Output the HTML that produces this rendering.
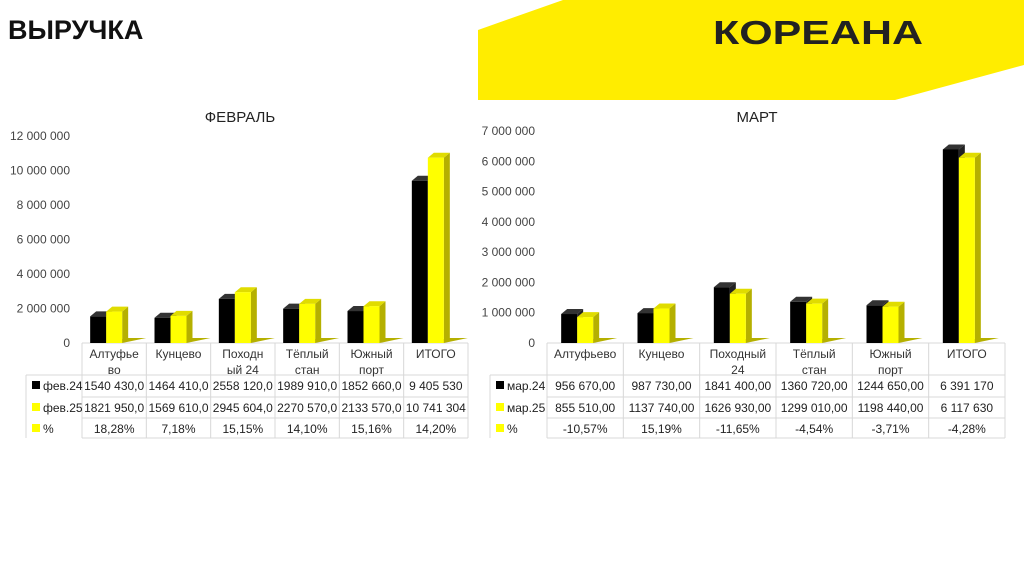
<!DOCTYPE html>
<html><head><meta charset="utf-8"><style>
body{margin:0;width:1024px;height:574px;overflow:hidden;background:#fff;font-family:"Liberation Sans",sans-serif}
svg{position:absolute;left:0;top:0}
</style></head><body>
<svg id="s" width="1024" height="574">
<polygon points="478,30 563,0 1024,0 1024,65 895,100 478,100" fill="#ffed00"/>
<text x="8" y="39" font-size="27" font-weight="bold" fill="#111">ВЫРУЧКА</text>
<text x="713" y="44" font-size="33" font-weight="bold" fill="#222" textLength="210" lengthAdjust="spacingAndGlyphs">КОРЕАНА</text>
<g id="c1"></g><g id="c2"></g>
</svg>
<script>
const cats1=["Алтуфье|во","Кунцево","Походн|ый 24","Тёплый|стан","Южный|порт","ИТОГО"];
const feb24=[1540430,1464410,2558120,1989910,1852660,9405530];
const feb25=[1821950,1569610,2945604,2270570,2133570,10741304];
const feb24Txt=["1540 430,0","1464 410,0","2558 120,0","1989 910,0","1852 660,0","9 405 530"];
const feb25Txt=["1821 950,0","1569 610,0","2945 604,0","2270 570,0","2133 570,0","10 741 304"];
const febPct=["18,28%","7,18%","15,15%","14,10%","15,16%","14,20%"];
const febTicks=[0,2000000,4000000,6000000,8000000,10000000,12000000];
const cats2=["Алтуфьево","Кунцево","Походный|24","Тёплый|стан","Южный|порт","ИТОГО"];
const mar24=[956670,987730,1841400,1360720,1244650,6391170];
const mar25=[855510,1137740,1626930,1299010,1198440,6117630];
const mar24Txt=["956 670,00","987 730,00","1841 400,00","1360 720,00","1244 650,00","6 391 170"];
const mar25Txt=["855 510,00","1137 740,00","1626 930,00","1299 010,00","1198 440,00","6 117 630"];
const marPct=["-10,57%","15,19%","-11,65%","-4,54%","-3,71%","-4,28%"];
const marTicks=[0,1000000,2000000,3000000,4000000,5000000,6000000,7000000];
const NS="http://www.w3.org/2000/svg";
function mk(p,t,a){const e=document.createElementNS(NS,t);for(const k in a)e.setAttribute(k,a[k]);p.appendChild(e);return e;}
function fmt(v){return v.toLocaleString('ru-RU').replace(/\u00a0|\u202f/g,' ');}
function chart(g,o){
  const y=v=>o.y0-(v/o.max)*(o.y0-o.ytop);
  const t=mk(g,'text',{x:o.tx,y:122,'font-size':15,'text-anchor':'middle',fill:'#222'});t.textContent=o.title;
  
  o.ticks.forEach(v=>{const l=mk(g,'text',{x:o.left-12,y:y(v)+4,'font-size':12,'text-anchor':'end',fill:'#444'});l.textContent=v===0?'0':fmt(v);
    });
  const cw=(o.right-o.left)/o.cats.length;
  const rows=[o.y0,o.y0+32,o.y0+54,o.y0+75,o.y0+95];
  const gl='#d8d8d8';
  mk(g,'line',{x1:o.left,y1:o.y0,x2:o.right,y2:o.y0,stroke:gl});
  for(let r=1;r<5;r++)mk(g,'line',{x1:r===1?o.lx:o.left,y1:rows[r],x2:o.right,y2:rows[r],stroke:gl});
  mk(g,'line',{x1:o.lx,y1:rows[1],x2:o.lx,y2:rows[4],stroke:gl});
  for(let i=0;i<=o.cats.length;i++)mk(g,'line',{x1:o.left+i*cw,y1:o.y0,x2:o.left+i*cw,y2:rows[4],stroke:gl});
  const d=6;
  o.cats.forEach((c,i)=>{
    const cx=o.left+i*cw+cw/2;
    [[o.a,'#000',-16],[o.b,'#ffff00',0]].forEach(([arr,fc,off],k)=>{
      const x=cx-8+off,w=16,top=y(arr[i]);
      if(k===1)mk(g,'polygon',{points:`${x},${o.y0} ${x+w},${o.y0} ${x+w+d+18},${o.y0-5} ${x+d+14},${o.y0-5}`,fill:'#b5b000'});
      mk(g,'polygon',{points:`${x+w},${top} ${x+w+d},${top-5} ${x+w+d},${o.y0-5} ${x+w},${o.y0}`,fill:k?'#b5b000':'#222'});
      mk(g,'polygon',{points:`${x},${top} ${x+d},${top-5} ${x+w+d},${top-5} ${x+w},${top}`,fill:k?'#e0dc00':'#333'});
      const r=mk(g,'rect',{x:x,y:top,width:w,height:o.y0-top,fill:fc});
      
    });
    c.split('|').forEach((s,j)=>{const tt=mk(g,'text',{x:cx,y:o.y0+15+j*16,'font-size':12,'text-anchor':'middle',fill:'#333'});tt.textContent=s;
      });
    [o.at,o.bt,o.pt].forEach((arr,r)=>{const tt=mk(g,'text',{x:cx,y:rows[r+1]+15,'font-size':12,'text-anchor':'middle',fill:'#222'});tt.textContent=arr[i];
      });
  });
  o.leg.forEach((s,r)=>{
    mk(g,'rect',{x:o.lx+6,y:rows[r+1]+6,width:8,height:8,fill:r===0?'#000':'#ffff00'});
    const tt=mk(g,'text',{x:o.lx+17,y:rows[r+1]+15,'font-size':12,fill:'#222'});tt.textContent=s;
    
  });
}
chart(document.getElementById('c1'),{title:'ФЕВРАЛЬ',tx:240,left:82,right:468,lx:26,y0:343,ytop:136,max:12000000,ticks:febTicks,cats:cats1,a:feb24,b:feb25,at:feb24Txt,bt:feb25Txt,pt:febPct,leg:['фев.24','фев.25','%']});
chart(document.getElementById('c2'),{title:'МАРТ',tx:757,left:547,right:1005,lx:490,y0:343,ytop:131,max:7000000,ticks:marTicks,cats:cats2,a:mar24,b:mar25,at:mar24Txt,bt:mar25Txt,pt:marPct,leg:['мар.24','мар.25','%']});
</script>
</body></html>
